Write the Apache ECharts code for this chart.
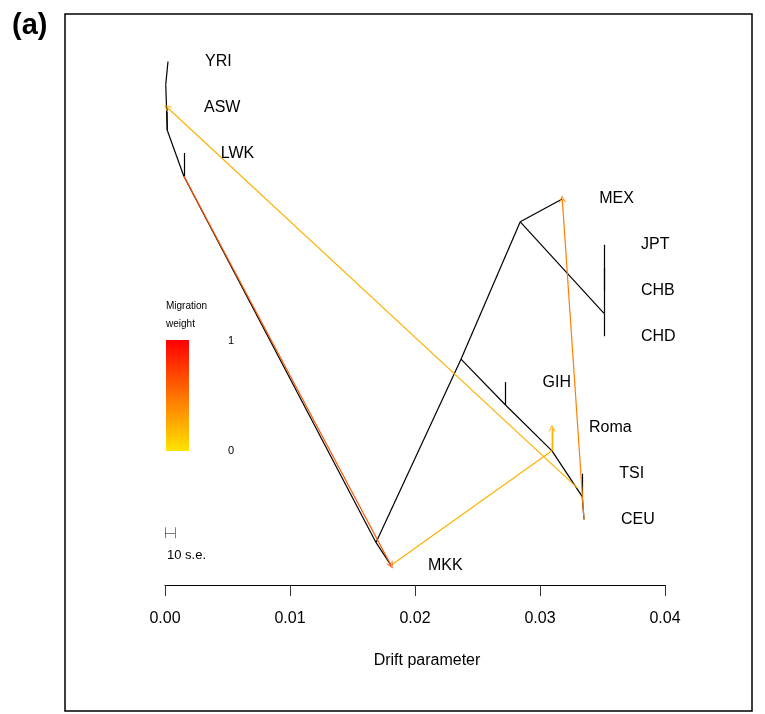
<!DOCTYPE html>
<html>
<head>
<meta charset="utf-8">
<script src="https://cdn.jsdelivr.net/npm/echarts@6/dist/echarts.min.js"></script>
<style>html,body{margin:0;padding:0;background:#fff;}#chart{width:765px;height:714px;}</style>
</head>
<body>
<div id="chart"></div>
<script>
// ---- Populations (tips): row index = vertical position (0 = top)
const tipNames = ['YRI','ASW','LWK','MEX','JPT','CHB','CHD','GIH','Roma','TSI','CEU','MKK'];
const tipDrift = [0.00024, 0.00016, 0.0015, 0.03178, 0.03512, 0.03512, 0.03512, 0.02724, 0.03096, 0.03338, 0.03352, 0.01808];
const tipRow   = [0, 1, 2, 3, 4, 5, 6, 7, 8, 9, 10, 11];

// ---- Internal nodes
const nodeNames = ['root','n1','n2','n3','n4','n5','n6','n7','n8','n9','n10'];
const nodeDrift = [0.00006, 0.00018, 0.0015, 0.01688, 0.02368, 0.02842, 0.03512, 0.03512, 0.02724, 0.03096, 0.03338];
const nodeRow   = [0.5, 1.5, 2.5, 10.5, 6.5, 3.5, 5.5, 4.5, 7.5, 8.5, 9.5];

// ---- Tree edges (parent -> child)
const edgeFrom = ['root','root','n1','n1','n2','n2','n3','n3','n4','n5','n5','n6','n6','n7','n7','n4','n8','n8','n9','n9','n10','n10'];
const edgeTo   = ['YRI','n1','ASW','n2','LWK','n3','MKK','n4','n5','MEX','n6','n7','CHD','JPT','CHB','n8','GIH','n9','Roma','n10','TSI','CEU'];

// ---- Migration edges
const migSrcDrift = [0.0015, 0.01808, 0.03299, 0.03352];
const migSrcRow   = [2.5, 11, 9.31, 10];
const migVia      = [null, 'n9', null, null];
const migTo       = ['MKK', 'Roma', 'ASW', 'MEX'];
const migWeight   = [0.63, 0.22, 0.22, 0.44];

// ---- Axis ticks
const xTicks = [0, 0.01, 0.02, 0.03, 0.04];

// ---- scale bar (10 s.e.)
const seUnit = 0.00008;
const seCount = 10;
const seRow = 10.29;

const pos = {};
tipNames.forEach((n,i)=>{pos[n]=[tipDrift[i], tipRow[i]];});
nodeNames.forEach((n,i)=>{pos[n]=[nodeDrift[i], nodeRow[i]];});

function weightColor(w){
  const hue = 53.6*(1-w);
  const g = Math.round(255*hue/60);
  return 'rgb(255,'+g+',0)';
}

const treeData = edgeFrom.map((f,i)=>({coords:[pos[f], pos[edgeTo[i]]]}));
const migPlain = [];   // segments without arrowhead
const migArrow = [];   // final segments, with arrowhead
migTo.forEach((t,i)=>{
  const col = weightColor(migWeight[i]);
  let start = [migSrcDrift[i], migSrcRow[i]];
  if (migVia[i]) {
    migPlain.push({coords:[start, pos[migVia[i]]], lineStyle:{color:col}});
    start = pos[migVia[i]];
  }
  migArrow.push({coords:[start, pos[t]], lineStyle:{color:col}});
});
const seLen = seUnit*seCount;
const scaleData = [
  {coords:[[0,seRow],[seLen,seRow]]},
  {coords:[[0,seRow-0.12],[0,seRow+0.12]]},
  {coords:[[seLen,seRow-0.12],[seLen,seRow+0.12]]}
];

const FONT = '"Liberation Sans", Arial, Helvetica, sans-serif';
const chevron = 'path://M5,0 L10,9 L8.6,9 L5,2.4 L1.4,9 L0,9 Z';

const chart = echarts.init(document.getElementById('chart'), null, {renderer:'canvas'});
chart.setOption({
  animation:false,
  backgroundColor:'#fff',
  grid:{left:165, right:100, top:15.7, bottom:129, containLabel:false},
  xAxis:{
    type:'value', min:0, max:0.04, interval:0.01,
    axisLine:{show:true, onZero:false, lineStyle:{color:'#000', width:1}},
    axisTick:{show:true, length:11, inside:false, lineStyle:{color:'#333', width:1}},
    axisLabel:{show:true, margin:26, color:'#000', fontSize:16, fontFamily:FONT,
      formatter:(v)=>v.toFixed(2)},
    splitLine:{show:false}
  },
  yAxis:{type:'value', min:-1, max:11.43, inverse:true, show:false},
  series:[
    {type:'lines', coordinateSystem:'cartesian2d', silent:true, z:2,
     lineStyle:{color:'#000', width:1.2, opacity:1}, data:treeData},
    {type:'lines', coordinateSystem:'cartesian2d', silent:true, z:3,
     symbol:['none','none'],
     lineStyle:{width:1.2, opacity:1}, data:migPlain},
    {type:'lines', coordinateSystem:'cartesian2d', silent:true, z:3,
     symbol:['none', chevron], symbolSize:7,
     lineStyle:{width:1.2, opacity:1}, data:migArrow},
    {type:'lines', coordinateSystem:'cartesian2d', silent:true, z:2,
     lineStyle:{color:'#000', width:1}, data:scaleData},
    {type:'scatter', silent:true, symbolSize:0, z:4,
     itemStyle:{opacity:1},
     data:tipNames.map((n,i)=>({name:n, value:[tipDrift[i], tipRow[i]]})),
     label:{show:true, position:'right', distance:37, color:'#000', opacity:1, fontSize:16, fontFamily:FONT,
       textBorderWidth:0, formatter:(p)=>p.name}}
  ],
  graphic:[
    {type:'rect', shape:{x:65, y:14, width:687, height:697}, style:{fill:'none', stroke:'#000', lineWidth:1.5}, silent:true},
    {type:'text', left:12, top:11, style:{text:'(a)', font:'bold 29px '+FONT, fill:'#000'}},
    {type:'text', x:427, y:661, style:{text:'Drift parameter', font:'16px '+FONT, fill:'#000', align:'center', verticalAlign:'middle'}},
    {type:'text', x:166, y:306, style:{text:'Migration', font:'10px '+FONT, fill:'#000', verticalAlign:'middle'}},
    {type:'text', x:166, y:324, style:{text:'weight', font:'10px '+FONT, fill:'#000', verticalAlign:'middle'}},
    {type:'rect', shape:{x:166, y:340, width:23, height:111},
     style:{fill:{type:'linear', x:0, y:0, x2:0, y2:1, colorStops:[{offset:0,color:'#FF0000'},{offset:1,color:'#FFE400'}]}}},
    {type:'text', x:228, y:341, style:{text:'1', font:'11px '+FONT, fill:'#000', verticalAlign:'middle'}},
    {type:'text', x:228, y:451, style:{text:'0', font:'11px '+FONT, fill:'#000', verticalAlign:'middle'}},
    {type:'text', x:167, y:555, style:{text:'10 s.e.', font:'13px '+FONT, fill:'#000', verticalAlign:'middle'}}
  ]
});
</script>
</body>
</html>
